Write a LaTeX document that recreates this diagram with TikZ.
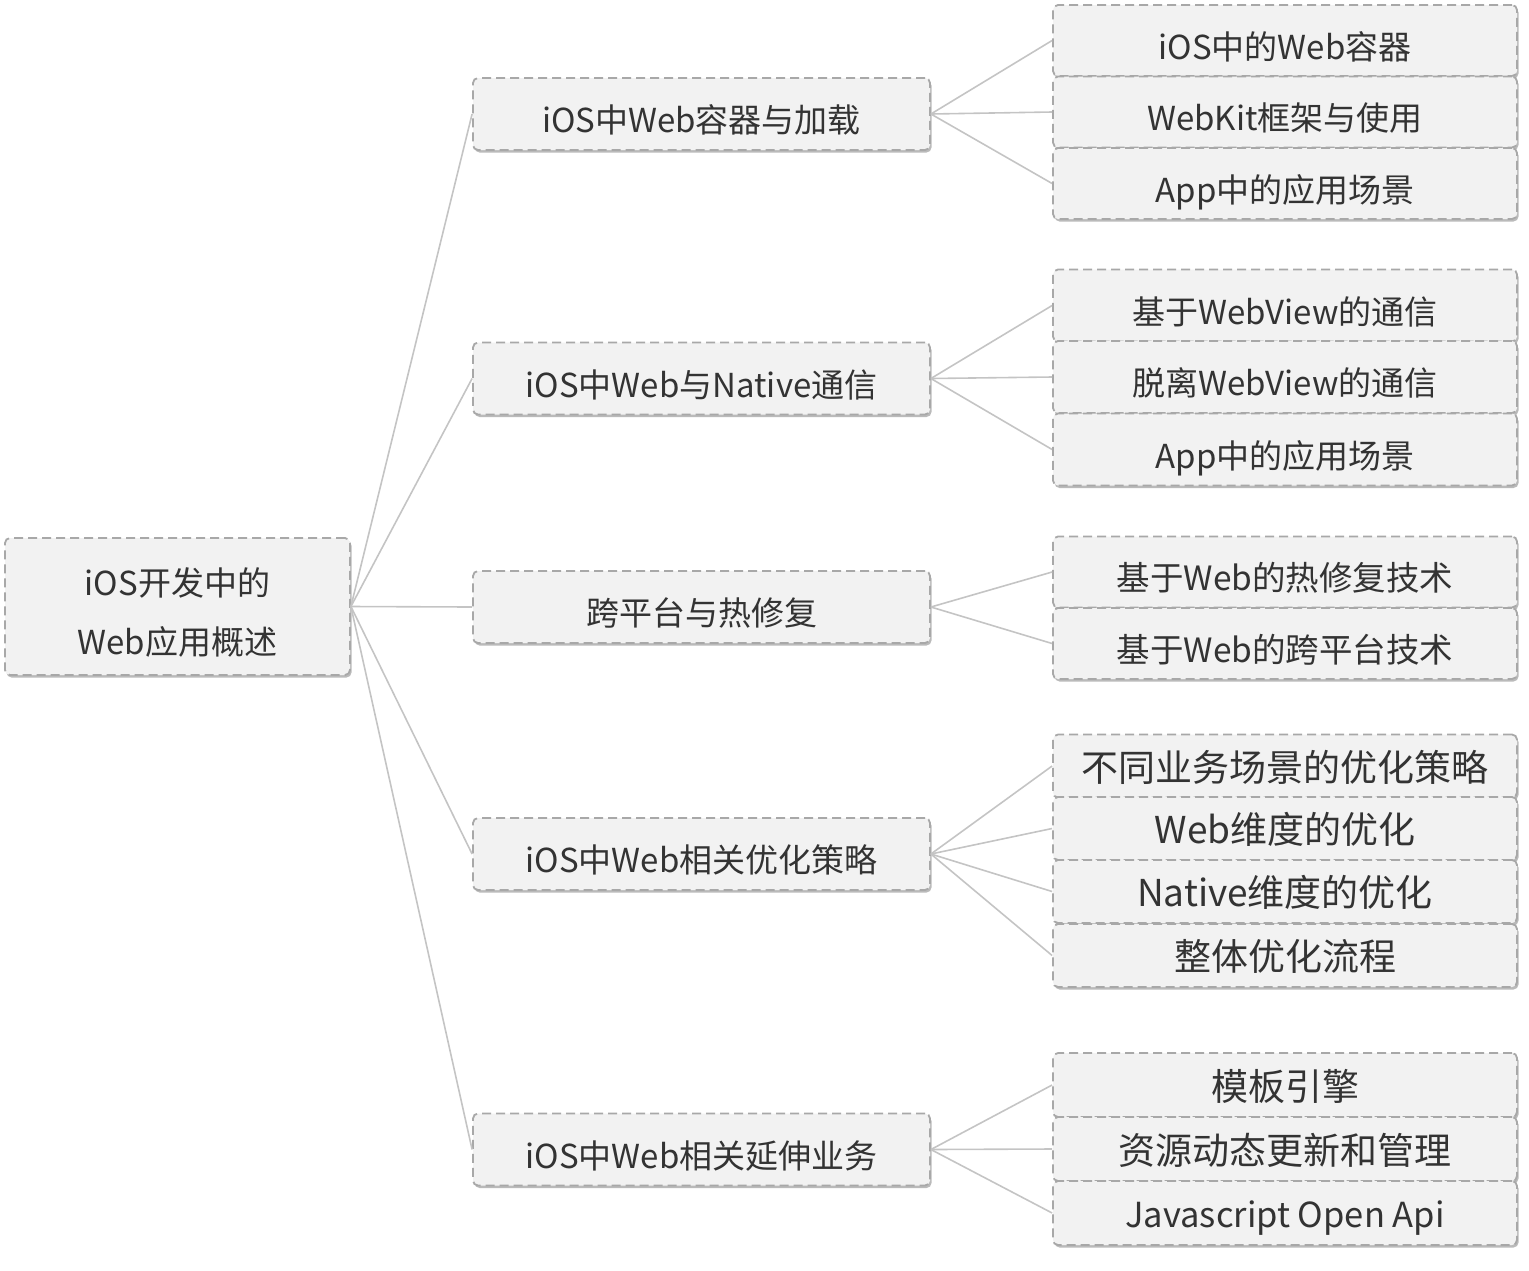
\documentclass[tikz,border=0pt]{standalone}
\usepackage{fontspec}
\setmainfont{Noto Sans CJK SC}
\usetikzlibrary{shadows}
\definecolor{boxfill}{HTML}{F2F2F2}
\definecolor{boxline}{HTML}{A8A8A8}
\definecolor{edgecol}{HTML}{C4C4C4}
\definecolor{txt}{HTML}{333333}
\tikzset{
  basebox/.style={draw=boxline, fill=boxfill, line width=1.8pt, dash pattern=on 9pt off 5pt,
    rounded corners=5pt, inner sep=0pt, align=center, text=txt,
    drop shadow={shadow xshift=1.5pt, shadow yshift=-2.5pt, fill=black!45, opacity=0.6}},
  rootbox/.style={basebox, minimum width=345pt, minimum height=137pt, font=\fontsize{33}{59}\selectfont},
  lonebox/.style={basebox, minimum width=457pt, minimum height=72pt},
  ltwobox/.style={basebox, minimum width=464pt},
  fsA/.style={font=\fontsize{33}{40}\selectfont, text height=37pt, text depth=0pt},
  fsC/.style={font=\fontsize{33.5}{40}\selectfont, text height=37.5pt, text depth=0pt},
  fsB/.style={font=\fontsize{37}{44}\selectfont, text height=30pt, text depth=0pt},
  fsD/.style={font=\fontsize{34.5}{42}\selectfont, text height=28pt, text depth=0pt},
  conn/.style={draw=edgecol, line width=1.6pt}
}
\begin{document}
\begin{tikzpicture}[x=1pt,y=-1pt]
\useasboundingbox (0,0) rectangle (1529,1270);
% root
\node[rootbox] (root) at (177.5,606.5) {\raisebox{-13pt}[0pt][0pt]{\begin{tabular}{@{}c@{}}iOS开发中的\\Web应用概述\end{tabular}}};
% level 1
\node[lonebox,fsA] (a) at (701.5,114) {iOS中Web容器与加载};
\node[lonebox,fsA] (b) at (701.5,378.5) {iOS中Web与Native通信};
\node[lonebox,fsA] (c) at (701.5,607) {跨平台与热修复};
\node[lonebox,fsA] (d) at (701.5,854) {iOS中Web相关优化策略};
\node[lonebox,fsA] (e) at (701.5,1149.5) {iOS中Web相关延伸业务};
% level 2 group a
\node[ltwobox,fsA,minimum height=71pt] (a1) at (1285,40.5) {iOS中的Web容器};
\node[ltwobox,fsA,minimum height=71pt] (a2) at (1285,112) {WebKit框架与使用};
\node[ltwobox,fsA,minimum height=71pt] (a3) at (1285,183.5) {App中的应用场景};
% group b
\node[ltwobox,fsA,minimum height=72pt] (b1) at (1285,305.5) {基于WebView的通信};
\node[ltwobox,fsA,minimum height=72pt] (b2) at (1285,377) {脱离WebView的通信};
\node[ltwobox,fsA,minimum height=72pt] (b3) at (1285,449.5) {App中的应用场景};
% group c
\node[ltwobox,fsC,minimum height=71pt] (c1) at (1285,572) {基于Web的热修复技术};
\node[ltwobox,fsC,minimum height=71pt] (c2) at (1285,643.5) {基于Web的跨平台技术};
% group d
\node[ltwobox,fsB,minimum height=63pt] (d1) at (1285,766) {不同业务场景的优化策略};
\node[ltwobox,fsB,minimum height=63pt] (d2) at (1285,828.5) {Web维度的优化};
\node[ltwobox,fsB,minimum height=63pt] (d3) at (1285,891.5) {Native维度的优化};
\node[ltwobox,fsB,minimum height=63pt] (d4) at (1285,955.5) {整体优化流程};
% group e
\node[ltwobox,fsB,minimum height=64pt] (e1) at (1285,1085) {模板引擎};
\node[ltwobox,fsB,minimum height=64pt] (e2) at (1285,1149) {资源动态更新和管理};
\node[ltwobox,fsD,minimum height=64pt] (e3) at (1285,1213) {Javascript Open Api};
% connectors
\foreach \t in {a,b,c,d,e} \draw[conn] (root.east) -- (\t.west);
\foreach \t in {a1,a2,a3} \draw[conn] (a.east) -- (\t.west);
\foreach \t in {b1,b2,b3} \draw[conn] (b.east) -- (\t.west);
\foreach \t in {c1,c2} \draw[conn] (c.east) -- (\t.west);
\foreach \t in {d1,d2,d3,d4} \draw[conn] (d.east) -- (\t.west);
\foreach \t in {e1,e2,e3} \draw[conn] (e.east) -- (\t.west);
\end{tikzpicture}
\end{document}
